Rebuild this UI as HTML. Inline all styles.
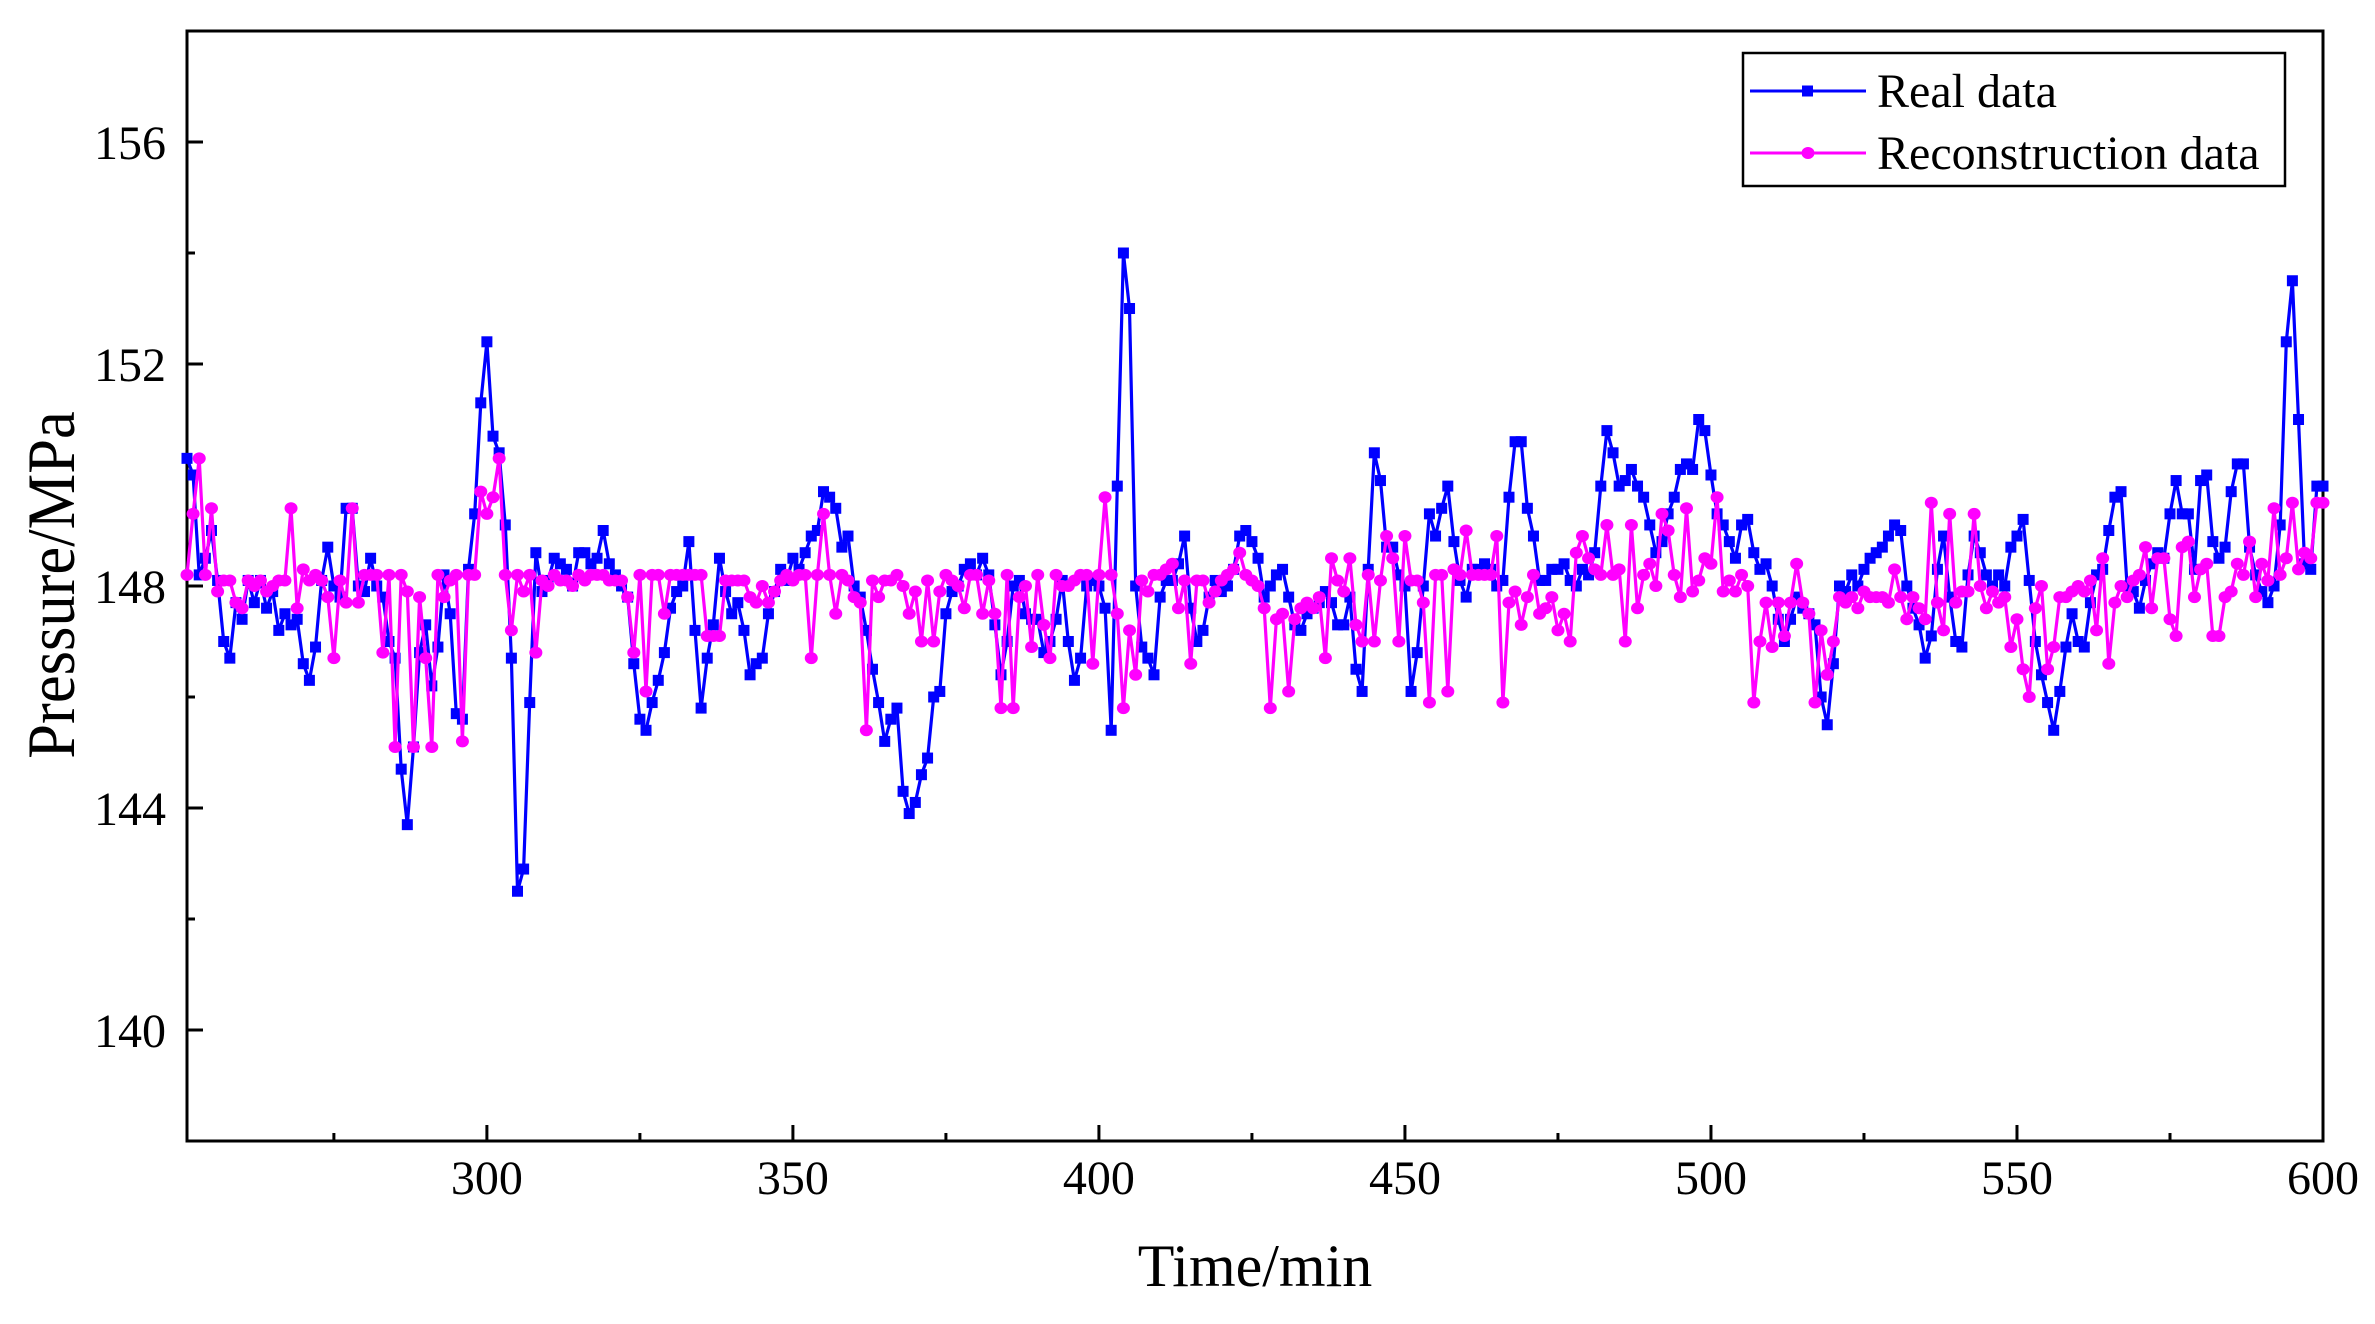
<!DOCTYPE html>
<html><head><meta charset="utf-8"><style>
html,body{margin:0;padding:0;background:#fff;}
svg{display:block;}
</style></head><body>
<svg id="chart" width="2375" height="1324" viewBox="0 0 2375 1324" xmlns="http://www.w3.org/2000/svg" font-family="'Liberation Serif', serif">
<g id="axes"></g>
<g id="series"></g>
<g id="legend"></g>
</svg>
<script>
const startTime = 251;
const realData = [150.3,150.0,148.2,148.5,149.0,148.1,147.0,146.7,147.7,147.4,148.1,147.7,148.1,147.6,147.9,147.2,147.5,147.3,147.4,146.6,146.3,146.9,148.1,148.7,148.0,147.8,149.4,149.4,148.0,147.9,148.5,148.0,147.8,147.0,146.7,144.7,143.7,145.1,146.8,147.3,146.2,146.9,148.2,147.5,145.7,145.6,148.3,149.3,151.3,152.4,150.7,150.4,149.1,146.7,142.5,142.9,145.9,148.6,147.9,148.1,148.5,148.4,148.3,148.0,148.6,148.6,148.4,148.5,149.0,148.4,148.2,148.0,147.8,146.6,145.6,145.4,145.9,146.3,146.8,147.6,147.9,148.0,148.8,147.2,145.8,146.7,147.3,148.5,147.9,147.5,147.7,147.2,146.4,146.6,146.7,147.5,147.9,148.3,148.1,148.5,148.3,148.6,148.9,149.0,149.7,149.6,149.4,148.7,148.9,148.0,147.8,147.2,146.5,145.9,145.2,145.6,145.8,144.3,143.9,144.1,144.6,144.9,146.0,146.1,147.5,147.9,148.0,148.3,148.4,148.2,148.5,148.2,147.3,146.4,147.0,148.0,148.1,147.5,147.4,147.4,146.8,147.0,147.4,148.1,147.0,146.3,146.7,148.0,148.1,148.0,147.6,145.4,149.8,154.0,153.0,148.0,146.9,146.7,146.4,147.8,148.1,148.1,148.4,148.9,147.6,147.0,147.2,147.8,148.1,147.9,148.0,148.3,148.9,149.0,148.8,148.5,147.8,148.0,148.2,148.3,147.8,147.3,147.2,147.5,147.6,147.7,147.9,147.7,147.3,147.3,147.8,146.5,146.1,148.3,150.4,149.9,148.7,148.7,148.2,148.0,146.1,146.8,148.0,149.3,148.9,149.4,149.8,148.8,148.1,147.8,148.3,148.3,148.4,148.3,148.0,148.1,149.6,150.6,150.6,149.4,148.9,148.1,148.1,148.3,148.3,148.4,148.1,148.0,148.3,148.2,148.6,149.8,150.8,150.4,149.8,149.9,150.1,149.8,149.6,149.1,148.6,148.8,149.3,149.6,150.1,150.2,150.1,151.0,150.8,150.0,149.3,149.1,148.8,148.5,149.1,149.2,148.6,148.3,148.4,148.0,147.4,147.0,147.4,147.8,147.6,147.5,147.3,146.0,145.5,146.6,148.0,147.9,148.2,148.0,148.3,148.5,148.6,148.7,148.9,149.1,149.0,148.0,147.6,147.3,146.7,147.1,148.3,148.9,147.8,147.0,146.9,148.2,148.9,148.6,148.2,148.0,148.2,148.0,148.7,148.9,149.2,148.1,147.0,146.4,145.9,145.4,146.1,146.9,147.5,147.0,146.9,147.7,148.2,148.3,149.0,149.6,149.7,148.0,147.9,147.6,148.1,148.4,148.6,148.5,149.3,149.9,149.3,149.3,148.3,149.9,150.0,148.8,148.5,148.7,149.7,150.2,150.2,148.7,148.2,147.9,147.7,148.0,149.1,152.4,153.5,151.0,148.4,148.3,149.8,149.8];
const reconData = [148.2,149.3,150.3,148.2,149.4,147.9,148.1,148.1,147.7,147.6,148.1,148.0,148.1,147.9,148.0,148.1,148.1,149.4,147.6,148.3,148.1,148.2,148.1,147.8,146.7,148.1,147.7,149.4,147.7,148.2,148.2,148.2,146.8,148.2,145.1,148.2,147.9,145.1,147.8,146.7,145.1,148.2,147.8,148.1,148.2,145.2,148.2,148.2,149.7,149.3,149.6,150.3,148.2,147.2,148.2,147.9,148.2,146.8,148.1,148.0,148.2,148.1,148.1,148.0,148.2,148.1,148.2,148.2,148.2,148.1,148.1,148.1,147.8,146.8,148.2,146.1,148.2,148.2,147.5,148.2,148.2,148.2,148.2,148.2,148.2,147.1,147.1,147.1,148.1,148.1,148.1,148.1,147.8,147.7,148.0,147.7,147.9,148.1,148.2,148.1,148.2,148.2,146.7,148.2,149.3,148.2,147.5,148.2,148.1,147.8,147.7,145.4,148.1,147.8,148.1,148.1,148.2,148.0,147.5,147.9,147.0,148.1,147.0,147.9,148.2,148.1,148.0,147.6,148.2,148.2,147.5,148.1,147.5,145.8,148.2,145.8,147.8,148.0,146.9,148.2,147.3,146.7,148.2,148.0,148.0,148.1,148.2,148.2,146.6,148.2,149.6,148.2,147.5,145.8,147.2,146.4,148.1,147.9,148.2,148.2,148.3,148.4,147.6,148.1,146.6,148.1,148.1,147.7,147.9,148.1,148.2,148.3,148.6,148.2,148.1,148.0,147.6,145.8,147.4,147.5,146.1,147.4,147.6,147.7,147.6,147.8,146.7,148.5,148.1,147.9,148.5,147.3,147.0,148.2,147.0,148.1,148.9,148.5,147.0,148.9,148.1,148.1,147.7,145.9,148.2,148.2,146.1,148.3,148.2,149.0,148.2,148.2,148.2,148.2,148.9,145.9,147.7,147.9,147.3,147.8,148.2,147.5,147.6,147.8,147.2,147.5,147.0,148.6,148.9,148.5,148.3,148.2,149.1,148.2,148.3,147.0,149.1,147.6,148.2,148.4,148.0,149.3,149.0,148.2,147.8,149.4,147.9,148.1,148.5,148.4,149.6,147.9,148.1,147.9,148.2,148.0,145.9,147.0,147.7,146.9,147.7,147.1,147.7,148.4,147.7,147.5,145.9,147.2,146.4,147.0,147.8,147.7,147.8,147.6,147.9,147.8,147.8,147.8,147.7,148.3,147.8,147.4,147.8,147.6,147.4,149.5,147.7,147.2,149.3,147.7,147.9,147.9,149.3,148.0,147.6,147.9,147.7,147.8,146.9,147.4,146.5,146.0,147.6,148.0,146.5,146.9,147.8,147.8,147.9,148.0,147.9,148.1,147.2,148.5,146.6,147.7,148.0,147.8,148.1,148.2,148.7,147.6,148.5,148.5,147.4,147.1,148.7,148.8,147.8,148.3,148.4,147.1,147.1,147.8,147.9,148.4,148.2,148.8,147.8,148.4,148.1,149.4,148.2,148.5,149.5,148.3,148.6,148.5,149.5,149.5];
const xTickValues = [300,350,400,450,500,550,600];
const xTickLabels = ["300","350","400","450","500","550","600"];
const yTickValues = [140,144,148,152,156];
const yTickLabels = ["140","144","148","152","156"];

const NS = "http://www.w3.org/2000/svg";
const L = 187, R = 2323, T = 31, B = 1141;
const xMin = 251, xMax = 600, yMin = 138, yMax = 158;
function xs(v){ return L + (v - xMin) / (xMax - xMin) * (R - L); }
function ys(v){ return B - (v - yMin) / (yMax - yMin) * (B - T); }
function mk(tag, attrs, parent){ const e = document.createElementNS(NS, tag); for (const k in attrs) e.setAttribute(k, attrs[k]); parent.appendChild(e); return e; }

const axes = document.getElementById('axes');
const series = document.getElementById('series');
const legend = document.getElementById('legend');

const frame = mk('rect', {x:L, y:T, width:R-L, height:B-T, fill:'none', stroke:'#000', 'stroke-width':3}, axes);



for (let v = 275; v <= 600; v += 25) {
  const major = (v % 50 === 0);
  const t = mk('line', {x1:xs(v), x2:xs(v), y1:B, y2:B-(major?16:8), stroke:'#000','stroke-width':3}, axes);
  
  
}
xTickValues.forEach((v, i) => {
  const t = mk('text', {x:xs(v), y:1194, 'font-size':48, 'text-anchor':'middle'}, axes);
  t.textContent = xTickLabels[i];
  
  
});
for (let v = 140; v <= 156; v += 2) {
  const major = (v % 4 === 0);
  const t = mk('line', {x1:L, x2:L+(major?16:8), y1:ys(v), y2:ys(v), stroke:'#000','stroke-width':3}, axes);
  
  
}
yTickValues.forEach((v, i) => {
  const t = mk('text', {x:166, y:ys(v)+17, 'font-size':48, 'text-anchor':'end'}, axes);
  t.textContent = yTickLabels[i];
  
  
});
const xt = mk('text', {x:1255, y:1286, 'font-size':60, 'text-anchor':'middle'}, axes);
xt.textContent = 'Time/min';


const yt = mk('text', {x:0, y:0, 'font-size':68, 'text-anchor':'middle', transform:'translate(74,585) rotate(-90) scale(0.92,1)'}, axes);
yt.textContent = 'Pressure/MPa';



function drawSeries(data, color, marker, name) {
  const g = mk('g', {}, series);
  
  
  const pts = data.map((v, i) => xs(startTime + i).toFixed(1) + ',' + ys(v).toFixed(1)).join(' ');
  const pl = mk('polyline', {points:pts, fill:'none', stroke:color, 'stroke-width':3.2, 'stroke-linejoin':'round'}, g);
  
  
  data.forEach((v, i) => {
    let m;
    if (marker === 'square') m = mk('rect', {x:xs(startTime+i)-5.5, y:ys(v)-5.5, width:11, height:11, fill:color}, g);
    else m = mk('ellipse', {cx:xs(startTime+i), cy:ys(v), rx:6.5, ry:6, fill:color}, g);
    
    
  });
}
drawSeries(realData, '#0000ff', 'square', 'real-data');
drawSeries(reconData, '#ff00ff', 'circle', 'reconstruction-data');

const lb = mk('rect', {x:1743, y:53, width:542, height:133, fill:'#fff', stroke:'#000', 'stroke-width':2.5}, legend);


[['Real data','#0000ff','square',91],['Reconstruction data','#ff00ff','circle',153]].forEach(e => {
  const g = mk('g', {}, legend);
  
  
  mk('line', {x1:1750, x2:1866, y1:e[3], y2:e[3], stroke:e[1], 'stroke-width':3}, g);
  if (e[2] === 'square') mk('rect', {x:1802, y:e[3]-5.5, width:11, height:11, fill:e[1]}, g);
  else mk('ellipse', {cx:1808, cy:e[3], rx:6.5, ry:6, fill:e[1]}, g);
  const t = mk('text', {x:1877, y:e[3]+16, 'font-size':48}, g);
  t.textContent = e[0];
});
</script>
</body></html>
